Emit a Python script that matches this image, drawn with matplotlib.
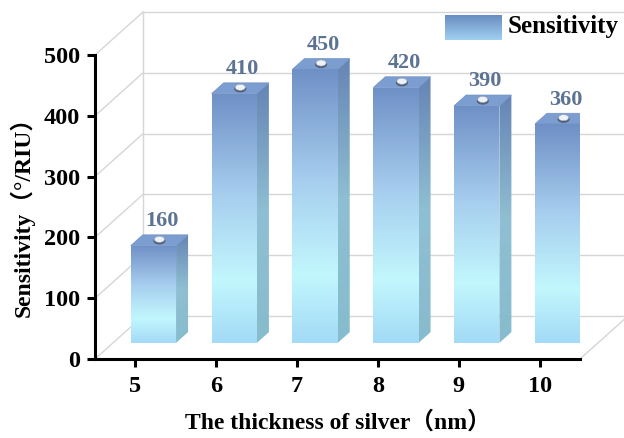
import numpy as np
import matplotlib
matplotlib.use("Agg")
import matplotlib.pyplot as plt
from matplotlib.colors import LinearSegmentedColormap
from matplotlib.patches import Polygon, Ellipse

thickness = [5, 6, 7, 8, 9, 10]
sensitivity = [160, 410, 450, 420, 390, 360]
y_ticks = [0, 100, 200, 300, 400, 500]
series_name = "Sensitivity"

# pseudo-3d geometry, in data units
DEPTH_X = 0.594
DEPTH_Y = 70.7
BAR_W = 0.56
F_FRONT, F_BACK = 0.375, 0.625

SERIF = ["Liberation Serif", "Noto Sans CJK SC"]

front_cmap = LinearSegmentedColormap.from_list(
    "front", [(0.0, "#a3daf6"), (0.25, "#c2f7fd"), (0.6, "#a6cdee"), (1.0, "#6f90c6")])
side_cmap = LinearSegmentedColormap.from_list(
    "side", [(0.0, "#86bccd"), (0.5, "#8fbfd2"), (1.0, "#6584b4")])
legend_cmap = LinearSegmentedColormap.from_list(
    "legend", [(0.0, "#a0d0f0"), (1.0, "#6a8cc2")])


def gradient_fill(ax, poly, x0, x1, y0, y1, cmap, z):
    grad = np.linspace(0, 1, 256).reshape(-1, 1)
    im = ax.imshow(grad, cmap=cmap, origin="lower", aspect="auto",
                   extent=(x0, x1, y0, y1), zorder=z, interpolation="bilinear")
    ax.add_patch(poly)
    im.set_clip_path(poly)


fig = plt.figure(figsize=(6.24, 4.38), dpi=100)
ax = fig.add_axes([95 / 624, 79 / 438, 485 / 624, 304 / 438])
xmin, xmax = 4.5, 10.5
ymin, ymax = 0, 500

# back wall, side wall and floor
grid_kw = dict(color="#d6d6d6", lw=1.0, clip_on=False, zorder=1)
for v in y_ticks:
    ax.plot([xmin + DEPTH_X, xmax + DEPTH_X], [v + DEPTH_Y, v + DEPTH_Y], **grid_kw)
    ax.plot([xmin, xmin + DEPTH_X], [v, v + DEPTH_Y], **grid_kw)
ax.plot([xmin + DEPTH_X, xmin + DEPTH_X], [DEPTH_Y, ymax + DEPTH_Y], **grid_kw)
ax.plot([xmax, xmax + DEPTH_X], [0, DEPTH_Y], **grid_kw)

# bars
for c, v in zip(thickness, sensitivity):
    x0 = c - BAR_W / 2 + F_FRONT * DEPTH_X
    x1 = x0 + BAR_W
    dx = (F_BACK - F_FRONT) * DEPTH_X
    yb0 = F_FRONT * DEPTH_Y
    yb1 = F_BACK * DEPTH_Y
    z = 3

    front = Polygon([(x0, yb0), (x1, yb0), (x1, v + yb0), (x0, v + yb0)],
                    closed=True, facecolor="none", edgecolor="none")
    gradient_fill(ax, front, x0, x1, yb0, v + yb0, front_cmap, z)

    side = Polygon([(x1, yb0), (x1 + dx, yb1), (x1 + dx, v + yb1), (x1, v + yb0)],
                   closed=True, facecolor="none", edgecolor="none")
    gradient_fill(ax, side, x1, x1 + dx, yb0, v + yb1, side_cmap, z)

    top = Polygon([(x0, v + yb0), (x1, v + yb0), (x1 + dx, v + yb1), (x0 + dx, v + yb1)],
                  closed=True, facecolor="#7c9dd0", edgecolor="#7191c4", lw=0.5, zorder=z + 1)
    ax.add_patch(top)

    # knob on the top face
    kx = (x0 + x1) / 2 + dx / 2
    ky = v + (yb0 + yb1) / 2
    ax.add_patch(Ellipse((kx, ky - 1), 0.15, 12, facecolor="#52627a", edgecolor="none", zorder=z + 2))
    ax.add_patch(Ellipse((kx, ky + 1.5), 0.125, 10, facecolor="#eef2f6", edgecolor="#9aa6b6",
                         lw=0.4, zorder=z + 3))

    ax.text(kx + 0.03, v + yb1 + 6, str(v), ha="center", va="bottom",
            fontsize=16, fontweight="bold", family=SERIF, color="#5d7394", zorder=z + 4)

ax.set_xlim(xmin, xmax)
ax.set_ylim(ymin, ymax)
ax.set_xticks(thickness)
ax.set_yticks(y_ticks)
ax.set_xticklabels([str(t) for t in thickness])
for lbl in ax.get_xticklabels() + ax.get_yticklabels():
    lbl.set_fontfamily(SERIF)
    lbl.set_fontweight("bold")
    lbl.set_fontsize(17.5)
ax.tick_params(axis="both", direction="out", length=6, width=2.2, color="black")
ax.tick_params(axis="y", pad=5)
ax.tick_params(axis="x", pad=6)
for side_name in ("top", "right"):
    ax.spines[side_name].set_visible(False)
for side_name in ("left", "bottom"):
    ax.spines[side_name].set_linewidth(2.2)
    ax.spines[side_name].set_zorder(6)
ax.patch.set_alpha(0)

fig.text(22 / 624, 1 - 211 / 438, "Sensitivity（°/RIU）", rotation=90,
         ha="center", va="center", fontsize=17, fontweight="bold", family=SERIF)
fig.text(338 / 624, 1 - 422 / 438, "The thickness of silver（nm）",
         ha="center", va="center", fontsize=17, fontweight="bold", family=SERIF)

# legend
lax = fig.add_axes([445 / 624, 1 - 40 / 438, 57 / 624, 25 / 438])
lax.imshow(np.linspace(0, 1, 64).reshape(-1, 1), cmap=legend_cmap, origin="lower",
           aspect="auto", extent=(0, 1, 0, 1))
lax.set_axis_off()
fig.text(508 / 624, 1 - 27 / 438, series_name, ha="left", va="center",
         fontsize=18, fontweight="bold", family=SERIF)

fig.savefig("out.png", dpi=100)
